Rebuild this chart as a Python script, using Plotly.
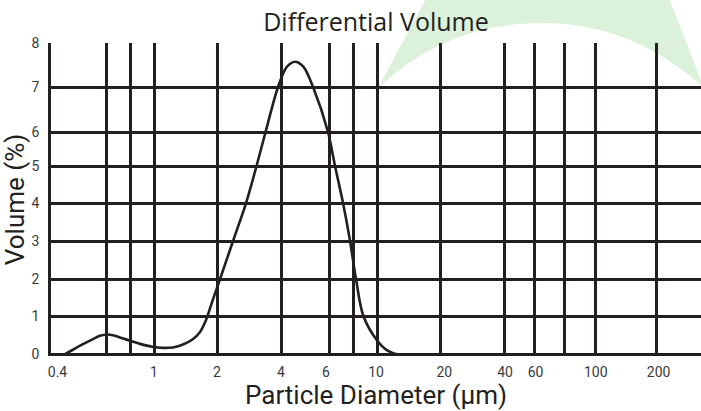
import plotly.graph_objects as go
import math

# ---- data ----
diameter_um = [0.400, 0.4296, 0.4666, 0.5334, 0.5734, 0.6162, 0.6623, 0.7045, 0.781, 0.8657,
               0.9796, 1.097, 1.216, 1.348, 1.495, 1.606, 1.709, 1.818, 1.974, 2.257,
               2.580, 2.875, 3.155, 3.588, 3.924, 4.275, 4.656, 5.145, 6.003, 6.453,
               7.009, 7.534, 8.012, 8.643, 9.918, 10.99, 12.61, 21.1, 59.1, 165.6, 280.0]
volume_pct = [0.0, 0.098, 0.219, 0.386, 0.468, 0.504, 0.478, 0.427, 0.340, 0.262,
              0.190, 0.159, 0.170, 0.244, 0.386, 0.566, 0.875, 1.337, 1.929, 2.907,
              3.884, 4.836, 5.711, 6.868, 7.383, 7.519, 7.390, 6.868, 5.711, 4.836,
              3.884, 2.907, 1.929, 0.977, 0.360, 0.103, -0.026, -0.03, -0.03, -0.02, -0.01]

# vertical grid lines (as drawn in the reference)
x_grid_vals = [0.610, 0.781, 1.0, 1.919, 3.727, 6.07, 7.79, 10.0, 19.18, 36.9,
               50.3, 68.8, 94.7, 176.2]
# x tick labels and where they sit
x_label_vals = [0.370, 1.0, 1.91, 3.70, 5.88, 9.85, 19.9, 37.2, 50.9, 94.7, 181.0]
x_label_text = ["0.4", "1", "2", "4", "6", "10", "20", "40", "60", "100", "200"]

# horizontal grid lines / y tick labels
y_grid_vals = [0, 0.977, 1.929, 2.907, 3.884, 4.836, 5.711, 6.868, 8.0]
y_label_text = ["0", "1", "2", "3", "4", "5", "6", "7", "8"]

INK = "#231f20"
TICK_FONT = dict(family="Roboto", size=14, color="#3a3a3a")
x_range = [math.log10(0.346), math.log10(280.0)]

fig = go.Figure()
fig.add_trace(go.Scatter(
    x=diameter_um, y=volume_pct, mode="lines",
    line=dict(color=INK, width=2.6, shape="spline", smoothing=0.9),
    showlegend=False, hoverinfo="x+y",
))
# helper trace so the label axis is rendered
fig.add_trace(go.Scatter(x=[1], y=[None], xaxis="x2", mode="lines",
                         showlegend=False, hoverinfo="skip"))

fig.update_layout(
    width=701, height=411, autosize=False,
    margin=dict(l=51, r=0, t=43, b=55),
    paper_bgcolor="white", plot_bgcolor="rgba(0,0,0,0)",
    title=dict(text="Differential Volume", x=0.5, xref="paper", xanchor="center",
               y=0.945, yref="container", yanchor="middle",
               font=dict(family="Open Sans", size=25, color="#231f20")),
    xaxis=dict(type="log", range=x_range, tickvals=x_grid_vals,
               showticklabels=False, ticks="", showgrid=True,
               gridcolor=INK, gridwidth=2.6, showline=False, zeroline=False),
    xaxis2=dict(type="log", range=x_range, overlaying="x", anchor="y", side="bottom",
                tickvals=x_label_vals, ticktext=x_label_text, ticks="",
                showgrid=False, showline=False, zeroline=False,
                tickfont=TICK_FONT, ticklabelstandoff=6,
                title=dict(text="Particle Diameter (µm)", standoff=6,
                           font=dict(family="Roboto", size=26, color="#231f20"))),
    yaxis=dict(range=[-0.05, 8.0], tickvals=y_grid_vals, ticktext=y_label_text,
               ticks="", showgrid=True, gridcolor=INK, gridwidth=2.6,
               zeroline=False, showline=True, linecolor=INK, linewidth=2.6,
               tickfont=TICK_FONT, ticklabelstandoff=6,
               title=dict(text="Volume (%)", standoff=4,
                          font=dict(family="Roboto", size=26, color="#231f20"))),
    shapes=[dict(
        type="path", xref="paper", yref="paper", layer="below",
        path=("M 0.5923,1.2013 L 0.94,1.2013 L 1.0046,0.8562 "
              "Q 0.8954,1.0642 0.7557,1.0642 Q 0.6092,1.0642 0.5031,0.8562 Z"),
        fillcolor="#dcf1da", line=dict(width=0),
    )],
)

fig.write_html("out.html",
               config={"displayModeBar": False},
               post_script="document.body.style.margin='0';"
                           "document.body.style.overflow='hidden';")
